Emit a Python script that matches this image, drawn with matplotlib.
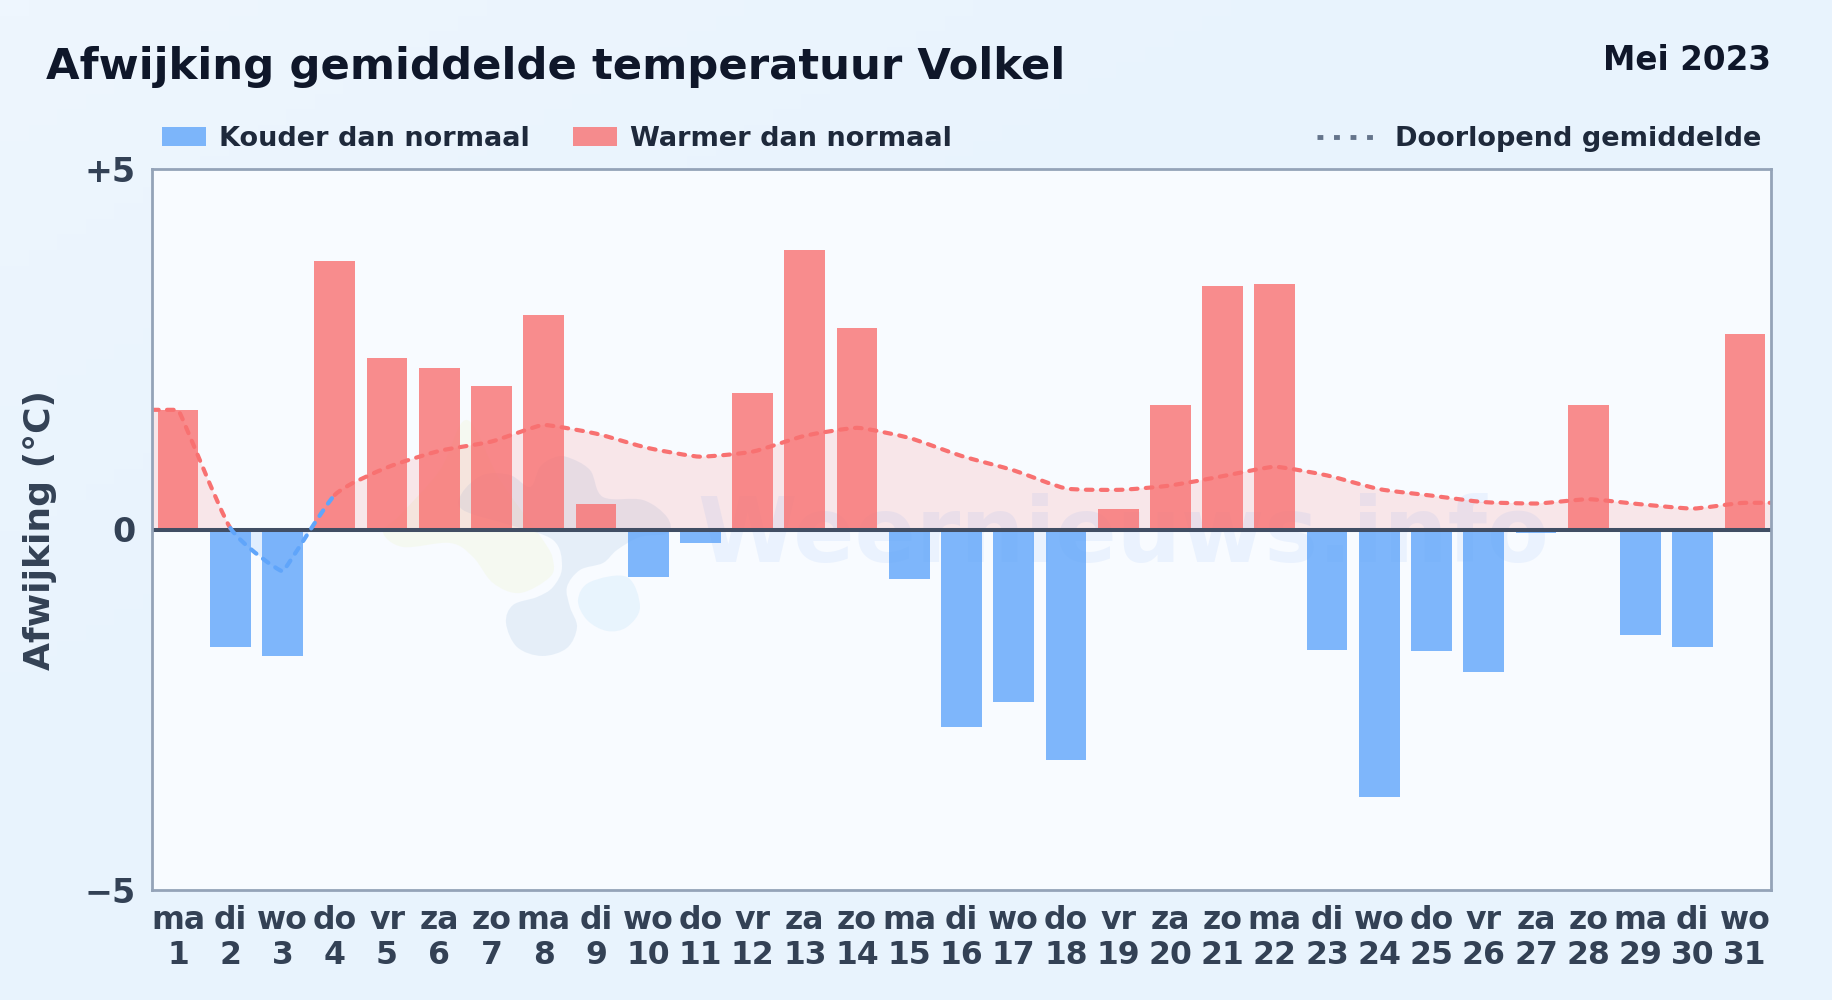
import numpy as np
import matplotlib
matplotlib.use("Agg")
import matplotlib.pyplot as plt
from matplotlib.patches import PathPatch, Rectangle
from matplotlib.path import Path
from matplotlib.transforms import IdentityTransform

plt.rcParams['font.family'] = ['DejaVu Sans']

weekdays = ["ma", "di", "wo", "do", "vr", "za", "zo", "ma", "di", "wo", "do", "vr", "za", "zo", "ma", "di",
            "wo", "do", "vr", "za", "zo", "ma", "di", "wo", "do", "vr", "za", "zo", "ma", "di", "wo"]
days = list(range(1, 32))
afwijking = [1.66, -1.63, -1.76, 3.73, 2.38, 2.24, 1.99, 2.98, 0.36, -0.66, -0.19, 1.9, 3.88, 2.8, -0.69, -2.74,
             -2.39, -3.2, 0.29, 1.72, 3.38, 3.4, -1.67, -3.71, -1.68, -1.97, -0.05, 1.73, -1.47, -1.63, 2.71]
gemiddelde = [1.66, 0.02, -0.58, 0.48, 0.86, 1.09, 1.22, 1.45, 1.33, 1.13, 1.01, 1.08, 1.3, 1.41, 1.27, 1.02,
              0.82, 0.57, 0.55, 0.61, 0.74, 0.87, 0.75, 0.56, 0.47, 0.38, 0.36, 0.42, 0.35, 0.29, 0.37]

W, H = 1832, 1000
RED = "#f87171"
BLUE = "#60a5fa"


def px(x, y):
    # pixel position in the reference, y measured from the top
    return x, H - y


def bezier_verts(x, y, handle=0.2):
    # monotone cubic through the points, as bezier control points
    x = np.asarray(x, float)
    y = np.asarray(y, float)
    h = np.diff(x)
    d = np.diff(y) / h
    m = np.zeros(len(x))
    m[1:-1] = np.where(d[:-1] * d[1:] > 0, (d[:-1] + d[1:]) / 2, 0)
    m[0], m[-1] = d[0], d[-1]
    verts = [(x[0], y[0])]
    for i in range(len(h)):
        # short handles at a peak on a steep stretch, so it stays pointed
        h0 = handle / (1 + 3 * abs(d[i])) if m[i] == 0 else handle
        h1 = handle / (1 + 3 * abs(d[i])) if m[i + 1] == 0 else handle
        verts.append((x[i] + h[i] * h0, y[i] + m[i] * h[i] * h0))
        verts.append((x[i + 1] - h[i] * h1, y[i + 1] - m[i + 1] * h[i] * h1))
        verts.append((x[i + 1], y[i + 1]))
    return verts


def blob(points, color, alpha):
    # closed smooth shape for the watermark logo, pixel coordinates
    pts = np.array([px(*p) for p in points], float)
    n = len(pts)
    verts = [pts[0]]
    codes = [Path.MOVETO]
    for i in range(n):
        p0, p1, p2, p3 = pts[i - 1], pts[i], pts[(i + 1) % n], pts[(i + 2) % n]
        verts += [p1 + (p2 - p0) / 6, p2 - (p3 - p1) / 6, p2]
        codes += [Path.CURVE4] * 3
    ax.add_patch(PathPatch(Path(verts, codes), fc=color, ec="none", alpha=alpha,
                           transform=IdentityTransform(), zorder=1.5))


fig = plt.figure(figsize=(W / 100, H / 100), dpi=100, facecolor="#e9f3fc")

# background gradient
bg = fig.add_axes([0, 0, 1, 1], zorder=-1)
bg.axis("off")
gx, gy = np.meshgrid(np.linspace(0, 1, 64), np.linspace(0, 1, 64))
g = (gx + gy) / 2
col0 = np.array([238, 246, 254]) / 255
col1 = np.array([232, 243, 253]) / 255
bg.imshow(col0 + (col1 - col0) * np.clip(g * 2.5, 0, 1)[..., None], aspect="auto", extent=[0, 1, 1, 0])

ax = fig.add_axes([152 / W, 1 - 890 / H, (1771 - 152) / W, (890 - 169) / H])
ax.set_facecolor("#f8fbff")
ax.set_xlim(0.5, 31.5)
ax.set_ylim(-5, 5)

colors = [RED if v >= 0 else BLUE for v in afwijking]
ax.bar(days, afwijking, width=0.78, color=colors, alpha=0.8, zorder=3)
ax.axhline(0, color="#414e64", lw=2.9, zorder=5)

# running mean, drawn from the edge of the plot to the other edge
xs = [0.5] + days + [31.5]
ys = [gemiddelde[0]] + gemiddelde + [gemiddelde[-1]]
verts = bezier_verts(xs, ys)

fill_codes = [Path.MOVETO, Path.LINETO] + [Path.CURVE4] * (len(verts) - 1) + [Path.LINETO, Path.CLOSEPOLY]
fill_verts = [(xs[0], 0)] + verts + [(xs[-1], 0), (xs[0], 0)]
fill_path = Path(fill_verts, fill_codes)
up = PathPatch(fill_path, fc=RED, ec="none", alpha=0.15, zorder=2)
down = PathPatch(fill_path, fc=BLUE, ec="none", alpha=0.15, zorder=2)
ax.add_patch(up)
ax.add_patch(down)
up.set_clip_path(Rectangle((0.5, 0), 31, 5, transform=ax.transData))
down.set_clip_path(Rectangle((0.5, -5), 31, 5, transform=ax.transData))

# segment index in xs: 0 edge->day1, 1 day1->day2, 2 day2->day3, 3 day3->day4
runs = [(0, 2, RED), (2, 4, BLUE), (4, len(xs) - 1, RED)]
for a, b, c in runs:
    seg = verts[3 * a: 3 * b + 1]
    codes = [Path.MOVETO] + [Path.CURVE4] * (len(seg) - 1)
    ax.add_patch(PathPatch(Path(seg, codes), fc="none", ec=c, lw=3.0, ls=(0, (1.6, 2.0)),
                           capstyle="round", zorder=6))

for s in ax.spines.values():
    s.set_color("#94a3b8")
    s.set_linewidth(2.0)
    s.set_zorder(7)

ax.set_yticks([-5, 0, 5])
ax.set_yticklabels(["\u22125", "0", "+5"], fontsize=24, fontweight="bold", color="#334155")
ax.set_xticks(days)
ax.set_xticklabels([f"{d}\n{n}" for d, n in zip(weekdays, days)], fontsize=22.7, fontweight="bold",
                   color="#334155", linespacing=1.16)
ax.tick_params(axis="x", length=0, pad=11)
ax.tick_params(axis="y", length=0, pad=12)
ax.set_ylabel("Afwijking (°C)", fontsize=26, fontweight="bold", color="#334155")
ax.yaxis.set_label_coords(-0.0585, 0.5)

# watermark
ax.text(0.6, 0.49, "Weernieuws.info", transform=ax.transAxes, ha="center", va="center", fontsize=65,
        fontweight="bold", color="#3b82f6", alpha=0.07, zorder=2.5)
blob([(383, 532), (403, 547), (450, 543), (473, 557), (493, 583), (520, 593), (550, 577), (553, 560), (543, 540),
      (500, 480), (467, 420), (440, 470), (400, 515)], "#e8f0a0", 0.14)
blob([(617, 550), (603, 563), (580, 570), (567, 587), (570, 607), (577, 627), (567, 648), (542, 656), (517, 647),
      (506, 623), (513, 605), (537, 597), (553, 587), (562, 567), (553, 540), (510, 525), (463, 510), (462, 493),
      (483, 475), (510, 475), (530, 487), (540, 467), (553, 458), (567, 457), (590, 470), (603, 497), (643, 500),
      (667, 517), (668, 533), (640, 537)], "#94b8dd", 0.18)
blob([(578, 600), (590, 582), (627, 577), (640, 607), (627, 627), (607, 631), (587, 620)], "#7cc4f5", 0.12)

# title and legend
fig.text(46 / W, 1 - 67 / H, "Afwijking gemiddelde temperatuur Volkel", fontsize=31.25, fontweight="bold",
         color="#0f172a", ha="left", va="center")
fig.text(1771 / W, 1 - 61 / H, "Mei 2023", fontsize=23.5, fontweight="bold", color="#0f172a", ha="right", va="center")

for x0, label, c in [(162, "Kouder dan normaal", BLUE), (573, "Warmer dan normaal", RED)]:
    fig.add_artist(Rectangle((x0 / W, 1 - 146 / H), 44 / W, 19 / H, transform=fig.transFigure, fc=c, alpha=0.8, ec="none"))
    fig.text((x0 + 57) / W, 1 - 139 / H, label, fontsize=19.5, fontweight="bold", color="#1e293b", ha="left", va="center")
fig.add_artist(plt.Line2D([1317 / W, 1375 / W], [1 - 137 / H] * 2, transform=fig.transFigure, color="#64748b", lw=3.5,
                          ls=(0, (1.2, 2.2))))
fig.text(1395 / W, 1 - 139 / H, "Doorlopend gemiddelde", fontsize=19.5, fontweight="bold", color="#1e293b",
         ha="left", va="center")

fig.savefig("out.png", dpi=100, facecolor=fig.get_facecolor())
